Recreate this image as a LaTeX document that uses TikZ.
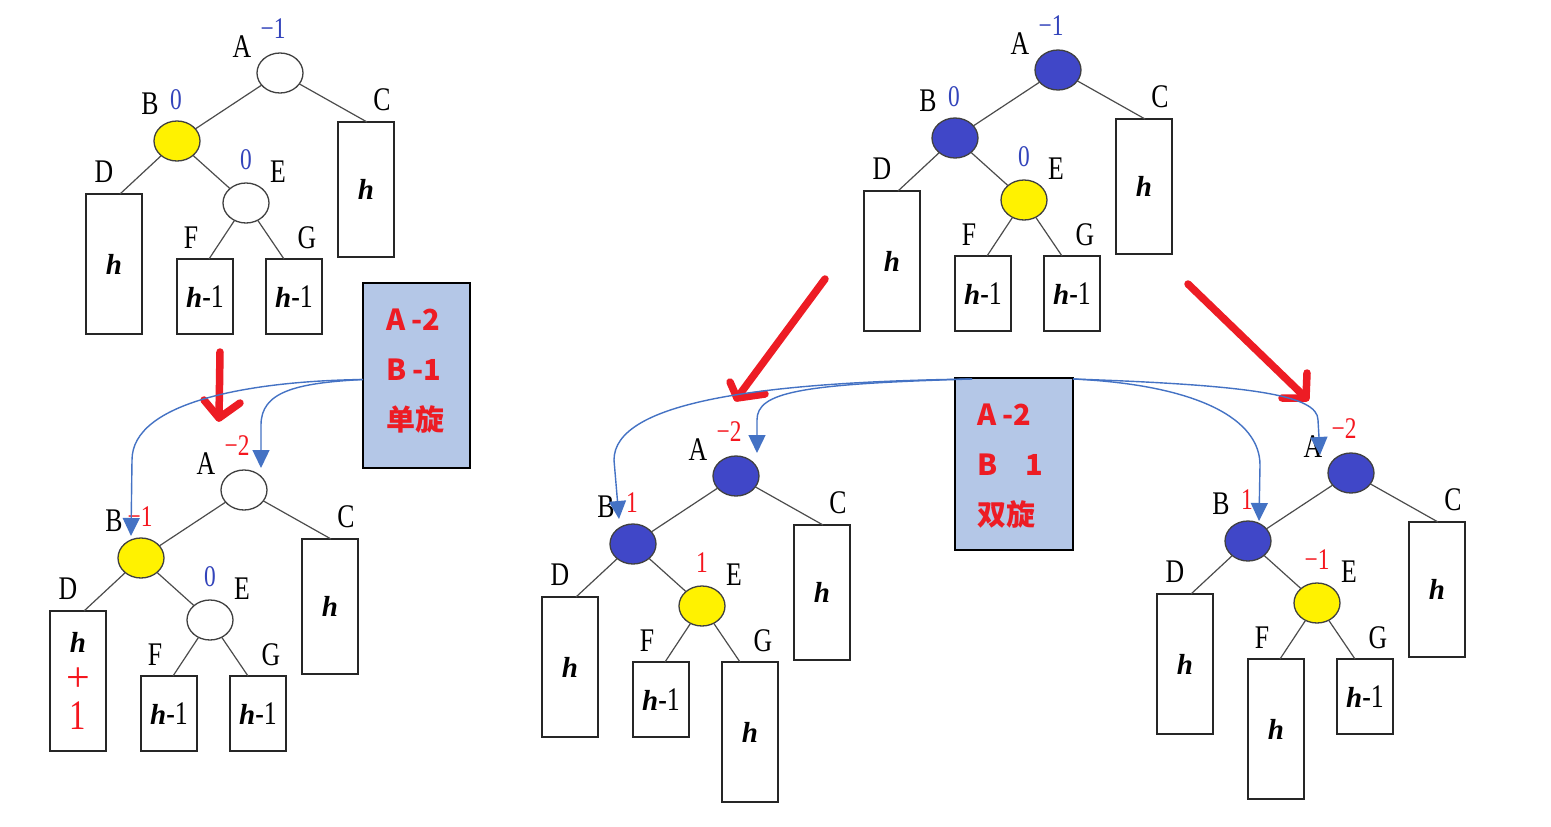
\documentclass[tikz,border=0pt]{standalone}
\usepackage{fontspec}
\setmainfont{Liberation Serif}
\newfontfamily\labfont[FakeStretch=0.78]{Liberation Serif}
\newfontfamily\hfont{Liberation Serif}
\newfontfamily\cjk{Noto Sans CJK SC}
\usetikzlibrary{shapes.geometric,arrows.meta}
\definecolor{ndyellow}{HTML}{FFF200}
\definecolor{ndblue}{HTML}{4047C8}
\definecolor{bfblue}{HTML}{3344BB}
\definecolor{bfred}{HTML}{F5161E}
\definecolor{boxfill}{HTML}{B4C7E7}
\definecolor{connblue}{HTML}{4472C4}
\definecolor{arrred}{HTML}{ED1C24}
\newcommand\hsym{{\hfont\fontsize{29}{29}\selectfont\bfseries\itshape h}}
\newcommand\hmone{\hsym{\labfont\fontsize{33}{33}\selectfont -1}}
\tikzset{
  every node/.style={inner sep=0pt, outer sep=0pt},
  nd/.style={ellipse, draw=black!75, line width=1.3pt, minimum width=46pt, minimum height=40pt},
  leafbox/.style={rectangle, draw=black!85, line width=1.3pt, minimum width=56pt, anchor=north, align=center},
  treeedge/.style={draw=black!70, line width=1.2pt},
  lettlab/.style={font=\labfont\fontsize{33}{36}\selectfont},
  bfnum/.style={font=\labfont\fontsize{30}{33}\selectfont},
  rulebox/.style={rectangle, draw=black, line width=1.3pt, fill=boxfill},
  boxtext/.style={font=\cjk\bfseries\fontsize{29}{50}\selectfont, text=arrred, align=left},
  conn/.style={draw=connblue, line width=1.4pt, -{Triangle[length=18pt,width=17pt]}},
  redarrow/.style={draw=arrred, line width=7.5pt, line cap=round, line join=round}
}
% #1 prefix, #2 A fill, #3 B fill, #4 E fill, #5 A bf, #6 B bf, #7 E bf, #8 F height, #9 G height
\newcommand\avltree[9]{%
  \node[nd, fill=#2] (#1A) at (280,73) {};
  \node[nd, fill=#3] (#1B) at (177,141) {};
  \node[nd, fill=#4] (#1E) at (246,203) {};
  \node[leafbox, minimum height=135pt] (#1C) at (366,122) {\hsym};
  \node[leafbox, minimum height=140pt] (#1D) at (114,194) {\Dtxt};
  \node[leafbox, minimum height=#8pt] (#1F) at (205,259) {\ifnum#8>100 \hsym\else\hmone\fi};
  \node[leafbox, minimum height=#9pt] (#1G) at (294,259) {\ifnum#9>100 \hsym\else\hmone\fi};
  \draw[treeedge] (#1A) -- (#1B);
  \draw[treeedge] (#1A) -- ([xshift=1pt]#1C.north);
  \draw[treeedge] (#1B) -- ([xshift=6pt]#1D.north);
  \draw[treeedge] (#1B) -- (#1E);
  \draw[treeedge] (#1E) -- ([xshift=4pt]#1F.north);
  \draw[treeedge] (#1E) -- ([xshift=-10pt]#1G.north);
  \node[lettlab] (#1lA) at (242,47) {A};
  \node[lettlab] (#1lB) at (150,104) {B};
  \node[lettlab] (#1lC) at (382,100) {C};
  \node[lettlab] (#1lD) at (104,172) {D};
  \node[lettlab] (#1lE) at (278,172) {E};
  \node[lettlab] (#1lF) at (191,238) {F};
  \node[lettlab] (#1lG) at (307,238) {G};
  \node[bfnum] (#1bA) at (273,29) {#5};
  \node[bfnum] (#1bB) at (176,100) {#6};
  \node[bfnum] (#1bE) at (246,160) {#7};
}
\begin{document}
\begin{tikzpicture}[x=1pt,y=-1pt]
\useasboundingbox[fill=white] (0,0) rectangle (1551,827);

% tree 1
\begin{scope}
  \def\Dtxt{\hsym}
  \avltree{p}{white}{ndyellow}{white}{\textcolor{bfblue}{−1}}{\textcolor{bfblue}{0}}{\textcolor{bfblue}{0}}{75}{75}
\end{scope}
% tree 2
\begin{scope}[shift={(-36,417)}]
  \def\Dtxt{\hsym\\[14pt]{\hfont\fontsize{42}{42}\selectfont\color{bfred}+}\\[10pt]{\labfont\fontsize{42}{42}\selectfont\color{bfred}1}}
  \avltree{q}{white}{ndyellow}{white}{\textcolor{bfred}{−2}}{\textcolor{bfred}{−1}}{\textcolor{bfblue}{0}}{75}{75}
\end{scope}
% tree 3
\begin{scope}[shift={(778,-3)}]
  \def\Dtxt{\hsym}
  \avltree{r}{ndblue}{ndblue}{ndyellow}{\textcolor{bfblue}{−1}}{\textcolor{bfblue}{0}}{\textcolor{bfblue}{0}}{75}{75}
\end{scope}
% tree 4
\begin{scope}[shift={(456,403)}]
  \def\Dtxt{\hsym}
  \avltree{s}{ndblue}{ndblue}{ndyellow}{\textcolor{bfred}{−2}}{\textcolor{bfred}{1}}{\textcolor{bfred}{1}}{75}{140}
\end{scope}
% tree 5
\begin{scope}[shift={(1071,400)}]
  \def\Dtxt{\hsym}
  \avltree{t}{ndblue}{ndblue}{ndyellow}{\textcolor{bfred}{−2}}{\textcolor{bfred}{1}}{\textcolor{bfred}{−1}}{140}{75}
\end{scope}

% rule boxes
\node[rulebox, minimum width=107pt, minimum height=185pt] (box1) at (416.5,375.5) {};
\node[boxtext, anchor=west] (box1t) at (386,371) {A -2\\B -1\\单旋};
\node[rulebox, minimum width=118pt, minimum height=172pt] (box2) at (1014,464) {};
\node[boxtext, anchor=west] (box2t) at (977,466) {A -2\\B\hspace{28pt}1\\双旋};

% red hand-drawn arrows
\draw[redarrow] (220,352) -- (219,418);
\draw[redarrow] (204,400) -- (219,418) -- (240,403);
\draw[redarrow] (825,279) -- (737,398);
\draw[redarrow] (730,382) -- (737,398) -- (765,394);
\draw[redarrow] (1188,284) -- (1306,398);
\draw[redarrow] (1307,373) -- (1306,398) -- (1282,398);

% blue connectors
\draw[conn] ([yshift=-4pt]box1.west) .. controls (250,381) and (132,402) .. (132,460) -- ([xshift=-10pt,yshift=2pt]qB.north);
\draw[conn] ([yshift=-4pt]box1.west) .. controls (295,383) and (261,392) .. (261,425) -- ([xshift=17pt,yshift=2pt]qA.north);
\draw[conn] ([xshift=17pt,yshift=-1pt]box2.north west) .. controls (760,382) and (614,402) .. (614,460) -- ([xshift=-14pt,yshift=5pt]sB.north);
\draw[conn] ([xshift=17pt,yshift=-1pt]box2.north west) .. controls (800,384) and (757,392) .. (757,420) -- ([xshift=21pt,yshift=3pt]sA.north);
\draw[conn] ([yshift=-1pt]box2.north east) .. controls (1250,385) and (1318,395) .. (1318,420) -- ([xshift=-31pt,yshift=-2pt]tA.north);
\draw[conn] ([yshift=-1pt]box2.north east) .. controls (1200,385) and (1260,420) .. (1260,465) -- ([xshift=11pt]tB.north);
\end{tikzpicture}
\end{document}
